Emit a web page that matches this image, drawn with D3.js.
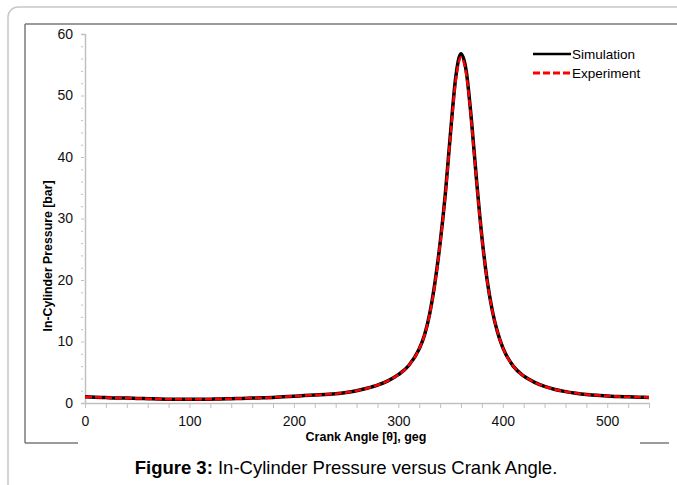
<!DOCTYPE html>
<html>
<head>
<meta charset="utf-8">
<script src="https://cdn.jsdelivr.net/npm/d3@7"></script>
<style>
  body { margin: 0; background: #fff; }
  text { font-family: "Liberation Sans", Arial, sans-serif; }
</style>
</head>
<body>
<svg></svg>
<script>
// canvas size
let width = 677;
let height = 485;

// chart data
let angles = [0, 10, 20, 30, 40, 50, 60, 70, 80, 90, 100, 110, 120, 130, 140, 150, 160, 170, 180, 190,
    200, 210, 220, 230, 240, 250, 260, 270, 280, 290, 300, 310, 320, 325, 330, 335, 340, 345, 350, 355,
    360, 365, 370, 375, 380, 385, 390, 395, 400, 410, 420, 430, 440, 450, 460, 470, 480, 490, 500,
    510, 520, 530, 540];
let simulation = [1.0, 0.95, 0.88, 0.82, 0.8, 0.75, 0.7, 0.66, 0.62, 0.6, 0.6, 0.6, 0.62, 0.65, 0.7, 0.75, 0.8, 0.85, 0.9, 1.0,
    1.1, 1.2, 1.3, 1.4, 1.5, 1.7, 2.0, 2.4, 2.9, 3.6, 4.6, 6.1, 8.8, 11.0, 14.5, 19.5, 26, 34, 44, 53,
    56.8, 54, 46, 36, 27, 20, 15, 11.5, 9.0, 6.0, 4.4, 3.4, 2.7, 2.2, 1.85, 1.6, 1.4, 1.25, 1.15,
    1.05, 1.0, 0.95, 0.9];
let experiment = [1.0, 0.95, 0.88, 0.82, 0.8, 0.75, 0.7, 0.66, 0.62, 0.6, 0.6, 0.6, 0.62, 0.65, 0.7, 0.75, 0.8, 0.85, 0.9, 1.0,
    1.1, 1.2, 1.3, 1.4, 1.5, 1.7, 2.0, 2.4, 2.9, 3.6, 4.6, 6.1, 8.8, 11.0, 14.4, 19.3, 25.8, 33.7, 43.6, 52.5,
    56.2, 53.5, 45.6, 35.8, 26.8, 19.9, 15, 11.5, 9.0, 6.0, 4.4, 3.4, 2.7, 2.2, 1.85, 1.6, 1.4, 1.25, 1.15,
    1.05, 1.0, 0.95, 0.9];
let seriesNames = ['Simulation', 'Experiment'];
let xTicks = [0, 100, 200, 300, 400, 500];
let yTicks = [0, 10, 20, 30, 40, 50, 60];

let svg = d3.select('svg')
    .attr('width', width)
    .attr('height', height);

// outer rounded box
svg.append('rect')
    .attr('x', 8).attr('y', 7)
    .attr('width', 690).attr('height', 490)
    .attr('rx', 10)
    .attr('fill', 'none')
    .attr('stroke', '#c8c8c8')
    .attr('stroke-width', 1.5);

// inner chart frame
let frame = svg.append('g')
    .attr('stroke', '#7a7a7a')
    .attr('stroke-width', 1.5);
frame.append('line').attr('x1', 25).attr('y1', 24).attr('x2', 677).attr('y2', 24);
frame.append('line').attr('x1', 25).attr('y1', 24).attr('x2', 25).attr('y2', 443);
frame.append('line').attr('x1', 25).attr('y1', 443).attr('x2', 78).attr('y2', 443);
frame.append('line').attr('x1', 640).attr('y1', 443).attr('x2', 669).attr('y2', 443);

// scales
let xScale = d3.scaleLinear()
    .domain([0, 540])
    .range([85, 649]);
let yScale = d3.scaleLinear()
    .domain([0, 60])
    .range([403, 34]);

// y axis: major ticks with labels, minor ticks every 2
let yAxis = d3.axisLeft(yScale)
    .tickValues(d3.range(0, 61, 2))
    .tickSize(4)
    .tickPadding(8)
    .tickFormat(function(d) { return yTicks.includes(d) ? d : ''; });
let yG = svg.append('g')
    .attr('transform', `translate(${xScale(0)}, 0)`)
    .call(yAxis);
yG.select('.domain').attr('stroke', '#c0c0c0').attr('stroke-width', 1.5);
yG.selectAll('.tick line').attr('stroke', '#c0c0c0')
    .attr('x1', function(d) { return yTicks.includes(d) ? -1 : -2; });
yG.selectAll('.tick text').attr('font-size', 14).attr('fill', '#111')
    .attr('font-family', '"Liberation Sans", Arial, sans-serif');

// x axis: minor ticks every 20
let xAxis = d3.axisBottom(xScale)
    .tickValues(d3.range(0, 541, 20))
    .tickSize(5)
    .tickSizeOuter(0)
    .tickPadding(8)
    .tickFormat(function(d) { return xTicks.includes(d) ? d : ''; });
let xG = svg.append('g')
    .attr('transform', `translate(0, ${yScale(0)})`)
    .call(xAxis);
xG.select('.domain').attr('stroke', '#c0c0c0').attr('stroke-width', 1.5);
xG.selectAll('.tick line').attr('stroke', '#c0c0c0');
xG.selectAll('.tick text').attr('font-size', 14).attr('fill', '#111')
    .attr('font-family', '"Liberation Sans", Arial, sans-serif');

// lines
let simData = angles.map(function(a, i) { return [a, simulation[i]]; });
let expData = angles.map(function(a, i) { return [a, experiment[i]]; });
let line = d3.line()
    .x(function(d) { return xScale(d[0]); })
    .y(function(d) { return yScale(d[1]); })
    .curve(d3.curveMonotoneX);

svg.append('path')
    .datum(simData)
    .attr('d', line)
    .attr('fill', 'none')
    .attr('stroke', '#000')
    .attr('stroke-width', 3.5);
svg.append('path')
    .datum(expData)
    .attr('d', line)
    .attr('fill', 'none')
    .attr('stroke', '#ff0000')
    .attr('stroke-width', 2.5)
    .attr('stroke-dasharray', '7,3');

// axis titles
svg.append('text')
    .attr('transform', 'translate(52, 256) rotate(-90)')
    .attr('text-anchor', 'middle')
    .attr('font-size', 12.3)
    .attr('font-weight', 'bold')
    .text('In-Cylinder Pressure [bar]');

// white box under the x title cuts the frame
svg.append('rect')
    .attr('x', 78).attr('y', 437)
    .attr('width', 562).attr('height', 12)
    .attr('fill', '#fff');
svg.append('text')
    .attr('x', 366).attr('y', 441)
    .attr('text-anchor', 'middle')
    .attr('font-size', 12.5)
    .attr('font-weight', 'bold')
    .text('Crank Angle [\u03b8], geg');

// legend
let legend = svg.append('g');
legend.selectAll('line')
    .data(seriesNames)
    .enter()
    .append('line')
    .attr('x1', 533).attr('x2', 571)
    .attr('y1', function(d, i) { return 54 + i * 19; })
    .attr('y2', function(d, i) { return 54 + i * 19; })
    .attr('stroke', function(d, i) { return i === 0 ? '#000' : '#ff0000'; })
    .attr('stroke-width', function(d, i) { return i === 0 ? 2.5 : 3; })
    .attr('stroke-dasharray', function(d, i) { return i === 0 ? null : '7,3'; });
legend.selectAll('text')
    .data(seriesNames)
    .enter()
    .append('text')
    .attr('x', 572)
    .attr('y', function(d, i) { return 58.5 + i * 19; })
    .attr('font-size', 13.5)
    .text(function(d) { return d; });

// caption
let caption = svg.append('text')
    .attr('x', 346).attr('y', 474)
    .attr('text-anchor', 'middle')
    .attr('font-size', 18.5);
caption.append('tspan').attr('font-weight', 'bold').text('Figure 3:');
caption.append('tspan').text(' In-Cylinder Pressure versus Crank Angle.');
</script>
</body>
</html>
